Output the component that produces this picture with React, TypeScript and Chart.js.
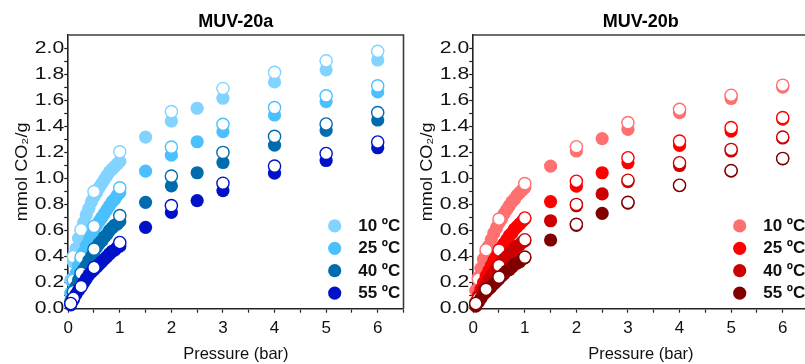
import React, { useEffect, useRef } from 'react';
import { Chart, registerables } from 'chart.js';

Chart.register(...registerables);

const FONT = "'Liberation Sans', Arial, sans-serif";

// ---------- shared axes / categories ----------
const temperatureLabels = ['10 ºC', '25 ºC', '40 ºC', '55 ºC'];
const lowPressures = [0.05, 0.1, 0.15, 0.2, 0.25, 0.3, 0.35, 0.4, 0.45, 0.5, 0.55, 0.6, 0.65, 0.7, 0.75, 0.8, 0.85, 0.9, 0.95, 1.0];
const highPressures = [1.5, 2, 2.5, 3, 4, 5, 6];
const desorptionPressures = [6, 5, 4, 3, 2, 1, 0.5, 0.25, 0.1, 0.05];
const xMajorTicks = [0, 1, 2, 3, 4, 5, 6];
const xMinorTicks = [0.5, 1.5, 2.5, 3.5, 4.5, 5.5, 6.5];
const yMajorTicks = [0, 0.2, 0.4, 0.6, 0.8, 1.0, 1.2, 1.4, 1.6, 1.8, 2.0];
const yMinorTicks = [0.1, 0.3, 0.5, 0.7, 0.9, 1.1, 1.3, 1.5, 1.7, 1.9];

// ---------- MUV-20a (adsorption: filled, desorption: open) ----------
const a10AdsLow = [0.22, 0.36, 0.46, 0.54, 0.60, 0.66, 0.72, 0.77, 0.82, 0.86, 0.89, 0.93, 0.96, 0.99, 1.02, 1.05, 1.07, 1.09, 1.11, 1.13];
const a25AdsLow = [0.12, 0.20, 0.27, 0.33, 0.38, 0.43, 0.48, 0.52, 0.56, 0.60, 0.64, 0.67, 0.70, 0.73, 0.76, 0.79, 0.82, 0.84, 0.87, 0.89];
const a40AdsLow = [0.06, 0.12, 0.17, 0.22, 0.26, 0.30, 0.33, 0.37, 0.40, 0.44, 0.47, 0.50, 0.52, 0.55, 0.57, 0.60, 0.62, 0.64, 0.65, 0.67];
const a55AdsLow = [0.03, 0.07, 0.11, 0.14, 0.17, 0.20, 0.23, 0.26, 0.28, 0.30, 0.32, 0.34, 0.36, 0.38, 0.40, 0.42, 0.44, 0.45, 0.47, 0.48];
const a10AdsHigh = [1.317, 1.44, 1.538, 1.615, 1.74, 1.833, 1.908];
const a25AdsHigh = [1.055, 1.178, 1.281, 1.358, 1.486, 1.589, 1.663];
const a40AdsHigh = [0.816, 0.943, 1.043, 1.122, 1.255, 1.368, 1.448];
const a55AdsHigh = [0.624, 0.739, 0.829, 0.906, 1.04, 1.137, 1.235];
const a10Des = [1.975, 1.902, 1.813, 1.69, 1.512, 1.204, 0.899, 0.606, 0.40, null];
const a25Des = [1.71, 1.633, 1.543, 1.415, 1.24, 0.927, 0.632, 0.396, 0.22, null];
const a40Des = [1.505, 1.417, 1.322, 1.199, 1.017, 0.714, 0.457, 0.272, 0.13, null];
const a55Des = [1.279, 1.191, 1.094, 0.963, 0.791, 0.508, 0.316, 0.17, 0.08, 0.04];
const aColors = ['#82d3ff', '#4cc0ff', '#006cae', '#0012c8'];

// ---------- MUV-20b ----------
const b10AdsLow = [0.14, 0.24, 0.31, 0.38, 0.43, 0.48, 0.53, 0.58, 0.62, 0.66, 0.69, 0.73, 0.76, 0.79, 0.82, 0.84, 0.87, 0.89, 0.91, 0.93];
const b25AdsLow = [0.05, 0.10, 0.15, 0.20, 0.25, 0.29, 0.33, 0.37, 0.40, 0.44, 0.47, 0.50, 0.53, 0.56, 0.58, 0.61, 0.63, 0.65, 0.67, 0.69];
const b40AdsLow = [0.03, 0.07, 0.11, 0.15, 0.19, 0.22, 0.25, 0.28, 0.31, 0.33, 0.36, 0.38, 0.40, 0.42, 0.44, 0.46, 0.48, 0.49, 0.51, 0.52];
const b55AdsLow = [0.02, 0.05, 0.08, 0.11, 0.13, 0.15, 0.17, 0.19, 0.21, 0.23, 0.25, 0.27, 0.29, 0.30, 0.32, 0.34, 0.35, 0.36, 0.38, 0.39];
const b10AdsHigh = [1.094, 1.21, 1.305, 1.376, 1.505, 1.613, 1.70];
const b25AdsHigh = [0.822, 0.94, 1.043, 1.12, 1.253, 1.363, 1.455];
const b40AdsHigh = [0.675, 0.79, 0.881, 0.975, 1.099, 1.21, 1.31];
const b55AdsHigh = [0.527, 0.64, 0.732, 0.81, 0.945, 1.055, 1.15];
const b10Des = [1.715, 1.638, 1.53, 1.428, 1.243, 0.96, 0.688, 0.452, 0.226, null];
const b25Des = [1.466, 1.389, 1.286, 1.158, 0.978, 0.696, 0.45, null, null, null];
const b40Des = [1.317, 1.222, 1.12, 0.986, 0.80, 0.529, 0.331, null, 0.08, null];
const b55Des = [1.153, 1.06, 0.947, 0.816, 0.647, 0.396, 0.242, 0.149, null, 0.04];
const bColors = ['#ff7070', '#ff0000', '#cc0000', '#800000'];

type Pt = { x: number; y: number };

function adsPoints(low: number[], high: number[]): Pt[] {
  return [
    ...lowPressures.map((p, i) => ({ x: p, y: low[i] })),
    ...highPressures.map((p, i) => ({ x: p, y: high[i] })),
  ];
}
function desPoints(vals: (number | null)[]): Pt[] {
  const out: Pt[] = [];
  desorptionPressures.forEach((p, i) => {
    const v = vals[i];
    if (v !== null && v !== undefined) out.push({ x: p, y: v });
  });
  return out;
}

function isMajor(v: number, step: number) {
  const r = v / step;
  return Math.abs(r - Math.round(r)) < 1e-6;
}

interface PanelProps {
  title: string;
  left: number;
  plotRight: number;
  colors: string[];
  ads: Pt[][];
  des: Pt[][];
}

const CANVAS_W = 411;
const CANVAS_H = 364;
const Y_TICK_LEN = 4;
const Y_TICK_PAD = 0;

// Stretch a scale's text drawing around an anchor (the reference's y-axis text is wider than plain Arial).
function wrapStretch(chart: any, scale: any, method: string, getAnchor: () => [number, number], sx: number, sy: number) {
  const flag = '__wrapped_' + method;
  if (!scale || scale[flag]) return;
  const orig = scale[method].bind(scale);
  scale[method] = (...args: any[]) => {
    const c = chart.ctx as any;
    const [ax, ay] = getAnchor();
    c.save();
    c.translate(ax, ay);
    c.scale(sx, sy);
    c.translate(-ax, -ay);
    orig(...args);
    c.restore();
  };
  scale[flag] = true;
}

function Panel({ title, left, plotRight, colors, ads, des }: PanelProps) {
  const ref = useRef<HTMLCanvasElement | null>(null);
  useEffect(() => {
    if (!ref.current) return;
    const datasets: any[] = [];
    let n = 0;
    const total = colors.length * 2;
    colors.forEach((c, k) => {
      datasets.push({
        label: temperatureLabels[k],
        data: ads[k],
        backgroundColor: c,
        borderColor: c,
        borderWidth: 0,
        pointRadius: 6.6,
        pointHoverRadius: 6.6,
        clip: false,
        order: total - n++,
      });
      datasets.push({
        label: temperatureLabels[k] + ' des',
        data: des[k],
        backgroundColor: '#ffffff',
        borderColor: c,
        borderWidth: 1.4,
        pointRadius: 6.1,
        pointHoverRadius: 6.1,
        clip: false,
        order: total - n++,
      });
    });

    const stretchPlugin = {
      id: 'stretch',
      beforeDraw(chart: any) {
        const ys = chart.scales.y;
        wrapStretch(chart, ys, 'drawLabels', () => [ys.right - Y_TICK_LEN - Y_TICK_PAD, 0], 1.28, 1);
        wrapStretch(chart, ys, 'drawTitle', () => [0, (ys.top + ys.bottom) / 2], 1, 1.1);
      },
    };
    const framePlugin = {
      id: 'frame',
      beforeDatasetsDraw(chart: any) {
        const { ctx, chartArea: a } = chart;
        ctx.save();
        ctx.strokeStyle = '#3c3c3c';
        ctx.lineWidth = 1.6;
        ctx.beginPath();
        ctx.moveTo(a.left, a.top);
        ctx.lineTo(a.right, a.top);
        ctx.lineTo(a.right, a.bottom);
        ctx.stroke();
        ctx.restore();
      },
    };
    const legendPlugin = {
      id: 'insideLegend',
      afterDraw(chart: any) {
        const { ctx, chartArea: a } = chart;
        ctx.save();
        temperatureLabels.forEach((lab, k) => {
          const cx = a.left + 266.5;
          const cy = a.bottom - 82.8 + k * 22.4;
          ctx.beginPath();
          ctx.fillStyle = colors[k];
          ctx.arc(cx, cy, 6.6, 0, Math.PI * 2);
          ctx.fill();
          ctx.fillStyle = '#111';
          ctx.font = `bold 17px ${FONT}`;
          ctx.textBaseline = 'middle';
          ctx.textAlign = 'left';
          ctx.fillText(lab, cx + 23.5, cy + 0.5);
        });
        ctx.restore();
      },
    };

    const chart = new Chart(ref.current, {
      type: 'scatter',
      data: { datasets },
      options: {
        animation: false,
        responsive: false,
        devicePixelRatio: 1,
        events: [],
        layout: { padding: { left: 0, right: CANVAS_W - plotRight, top: 0, bottom: 0 } },
        plugins: {
          legend: { display: false },
          tooltip: { enabled: false },
          title: {
            display: true,
            text: title,
            fullSize: false,
            color: '#000',
            font: { family: FONT, size: 18, weight: 'bold', lineHeight: 1.2 },
            padding: { top: 10.8, bottom: 2.6 },
          },
        },
        scales: {
          x: {
            type: 'linear',
            min: 0,
            max: 6.5,
            afterFit: (s: any) => { s.height = 55.3; },
            afterBuildTicks: (s: any) => {
              s.ticks = [...xMajorTicks, ...xMinorTicks].sort((p, q) => p - q).map((v) => ({ value: v }));
            },
            ticks: {
              autoSkip: false,
              maxRotation: 0,
              padding: 5,
              color: '#111',
              font: { family: FONT, size: 17 },
              callback: (v: any) => (isMajor(Number(v), 1) ? String(v) : ''),
            },
            grid: { drawOnChartArea: false, drawTicks: true, tickLength: 4, color: '#222', tickWidth: 1.2 },
            border: { display: true, color: '#222', width: 1.6 },
            title: {
              display: true,
              text: 'Pressure (bar)',
              color: '#111',
              font: { family: FONT, size: 16.5, lineHeight: 1.2 },
              padding: { top: 0, bottom: 0 },
            },
          },
          y: {
            type: 'linear',
            min: 0,
            max: 2.1,
            afterFit: (s: any) => { s.width = 68.2; },
            afterBuildTicks: (s: any) => {
              s.ticks = [...yMajorTicks, ...yMinorTicks].sort((p, q) => p - q).map((v) => ({ value: v }));
            },
            ticks: {
              autoSkip: false,
              padding: Y_TICK_PAD,
              color: '#111',
              font: { family: FONT, size: 16.5 },
              callback: (v: any) => (isMajor(Number(v), 0.2) ? Number(v).toFixed(1) : ''),
            },
            grid: { drawOnChartArea: false, drawTicks: true, tickLength: Y_TICK_LEN, color: '#222', tickWidth: 1.2 },
            border: { display: true, color: '#222', width: 1.6 },
            title: {
              display: true,
              text: 'mmol CO₂/g',
              color: '#111',
              font: { family: FONT, size: 16.5, lineHeight: 1.2 },
              padding: { top: 13, bottom: 0 },
            },
          },
        },
      } as any,
      plugins: [stretchPlugin, framePlugin, legendPlugin],
    });
    return () => chart.destroy();
  }, [title, left, plotRight, colors, ads, des]);

  return (
    <canvas
      ref={ref}
      width={CANVAS_W}
      height={CANVAS_H}
      style={{ position: 'absolute', left, top: 0, width: CANVAS_W, height: CANVAS_H }}
    />
  );
}

const aAds = [adsPoints(a10AdsLow, a10AdsHigh), adsPoints(a25AdsLow, a25AdsHigh), adsPoints(a40AdsLow, a40AdsHigh), adsPoints(a55AdsLow, a55AdsHigh)];
const aDes = [desPoints(a10Des), desPoints(a25Des), desPoints(a40Des), desPoints(a55Des)];
const bAds = [adsPoints(b10AdsLow, b10AdsHigh), adsPoints(b25AdsLow, b25AdsHigh), adsPoints(b40AdsLow, b40AdsHigh), adsPoints(b55AdsLow, b55AdsHigh)];
const bDes = [desPoints(b10Des), desPoints(b25Des), desPoints(b40Des), desPoints(b55Des)];

export default function App() {
  return (
    <div
      style={{
        position: 'fixed',
        left: 0,
        top: 0,
        width: 805,
        height: 364,
        overflow: 'hidden',
        background: '#fff',
      }}
    >
      <Panel title="MUV-20a" left={0} plotRight={406} colors={aColors} ads={aAds} des={aDes} />
      <Panel title="MUV-20b" left={405} plotRight={406.3} colors={bColors} ads={bAds} des={bDes} />
    </div>
  );
}
